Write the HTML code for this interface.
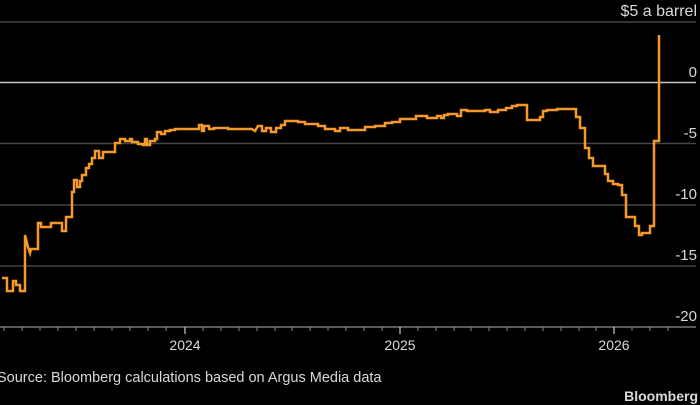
<!DOCTYPE html>
<html><head><meta charset="utf-8"><style>
html,body{margin:0;padding:0;background:#000;width:700px;height:405px;overflow:hidden}
svg{display:block}
text{font-family:"Liberation Sans",sans-serif;fill:#d9d9d9}
</style></head><body>
<svg width="700" height="405" viewBox="0 0 700 405">
<g stroke="#444" stroke-width="1.5">
<line x1="0" y1="22" x2="696" y2="22"/>
<line x1="0" y1="143.5" x2="696" y2="143.5"/>
<line x1="0" y1="205" x2="696" y2="205"/>
<line x1="0" y1="266" x2="696" y2="266"/>
</g>
<line x1="0" y1="82.5" x2="696" y2="82.5" stroke="#c8c8c8" stroke-width="1.5"/>
<line x1="0" y1="327" x2="696" y2="327" stroke="#777" stroke-width="1.5"/>
<g stroke="#888" stroke-width="1">
<line x1="4" y1="327" x2="4" y2="331"/><line x1="22" y1="327" x2="22" y2="331"/><line x1="40" y1="327" x2="40" y2="331"/><line x1="58" y1="327" x2="58" y2="331"/><line x1="76" y1="327" x2="76" y2="331"/><line x1="94" y1="327" x2="94" y2="331"/><line x1="112" y1="327" x2="112" y2="331"/><line x1="130" y1="327" x2="130" y2="331"/><line x1="148" y1="327" x2="148" y2="331"/><line x1="166" y1="327" x2="166" y2="331"/>
<line x1="203" y1="327" x2="203" y2="331"/><line x1="221" y1="327" x2="221" y2="331"/><line x1="239" y1="327" x2="239" y2="331"/><line x1="257" y1="327" x2="257" y2="331"/><line x1="275" y1="327" x2="275" y2="331"/><line x1="292" y1="327" x2="292" y2="331"/><line x1="310" y1="327" x2="310" y2="331"/><line x1="328" y1="327" x2="328" y2="331"/><line x1="346" y1="327" x2="346" y2="331"/><line x1="364" y1="327" x2="364" y2="331"/><line x1="382" y1="327" x2="382" y2="331"/>
<line x1="418" y1="327" x2="418" y2="331"/><line x1="436" y1="327" x2="436" y2="331"/><line x1="454" y1="327" x2="454" y2="331"/><line x1="471" y1="327" x2="471" y2="331"/><line x1="489" y1="327" x2="489" y2="331"/><line x1="507" y1="327" x2="507" y2="331"/><line x1="525" y1="327" x2="525" y2="331"/><line x1="543" y1="327" x2="543" y2="331"/><line x1="561" y1="327" x2="561" y2="331"/><line x1="579" y1="327" x2="579" y2="331"/><line x1="596" y1="327" x2="596" y2="331"/>
<line x1="632" y1="327" x2="632" y2="331"/><line x1="650" y1="327" x2="650" y2="331"/><line x1="668" y1="327" x2="668" y2="331"/>
</g>
<g stroke="#ccc" stroke-width="1.2">
<line x1="185" y1="327" x2="185" y2="334"/><line x1="400" y1="327" x2="400" y2="334"/><line x1="614" y1="327" x2="614" y2="334"/>
</g>
<polyline fill="none" stroke="#f7992a" stroke-width="2.5" stroke-linejoin="miter" points="2,278 7,278 7,291 13,291 13,281 16,281 16,285 20,285 20,291 25,291 25,235 28,247 30,253 31,249 38,249 38,223 41,223 41,227 51,227 51,223 62,223 62,231 66,231 66,217 72,217 72,192 74,192 74,180 77,180 77,187 80,187 80,181 82,181 82,175 86,175 86,168 89,168 89,164 92,164 92,158 95,158 95,151 99,151 99,158 103,158 103,152 115,152 115,143 120,143 120,139 125,139 125,141 130,141 130,139 132,139 132,142 138,142 138,144 143,144 143,145 145,145 145,139 147,139 147,145 150,145 150,141 155,141 155,139 157,139 157,132 161,132 161,134 165,134 165,131 170,131 170,130 175,130 175,129 199,129 199,125 202,125 202,131 204,131 204,126 209,126 209,129 214,129 214,128 228,128 228,129 252,129 255,131 258,126 262,126 262,131 266,131 266,128 271,128 271,132 276,132 276,128 281,128 281,125 285,125 285,121 298,121 298,122 305,122 305,124 318,124 318,126 325,126 325,129 335,129 335,131 340,131 340,128 348,128 348,130 365,130 365,127 375,127 375,126 385,126 385,123 392,123 392,122 400,122 400,119 416,119 416,116 427,116 427,118 437,118 437,116 441,116 441,118 444,118 444,115 448,115 448,114 457,114 457,116 461,116 461,110 467,110 467,111 485,111 485,110 490,110 490,112 498,112 498,110 506,110 506,108 512,108 512,106 517,106 517,105 527,105 527,120 540,120 540,117 543,117 543,111 547,111 547,110 557,110 557,109 576,109 576,117 580,117 580,128 585,128 585,148 589,148 589,158 593,158 593,166 605,166 605,174 608,174 608,181 613,181 613,184 618,184 618,185 622,185 622,195 626,195 626,217 635,217 635,226 639,226 639,235 642,235 642,233 650,233 650,226 654,226 654,141 659,141 659,35"/>
<g font-size="15" text-anchor="end">
<text x="697" y="16" font-size="16">$5 a barrel</text>
<text x="697" y="77">0</text>
<text x="697" y="138">-5</text>
<text x="697" y="199">-10</text>
<text x="697" y="260">-15</text>
<text x="697" y="321">-20</text>
</g>
<g font-size="14" text-anchor="middle">
<text x="185" y="350">2024</text>
<text x="400" y="350">2025</text>
<text x="614" y="350">2026</text>
</g>
<text x="-3" y="382" font-size="14.5">Source: Bloomberg calculations based on Argus Media data</text>
<text x="698" y="401" font-size="14" font-weight="bold" text-anchor="end" fill="#e6e6e6">Bloomberg</text>
</svg>
</body></html>
